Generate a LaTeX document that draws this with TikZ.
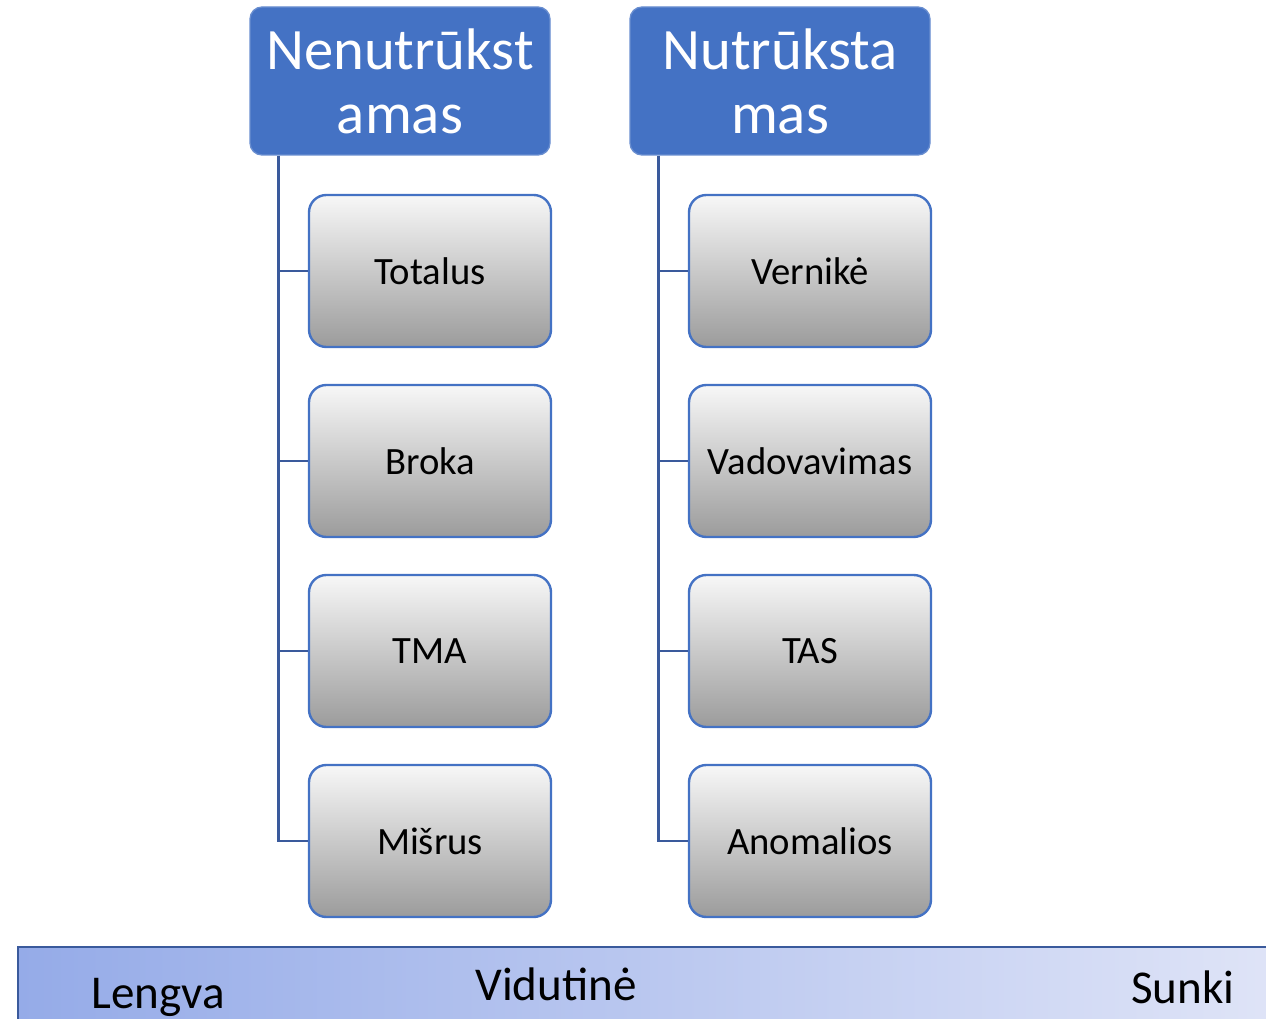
\documentclass[tikz,border=0pt]{standalone}
\usepackage{fontspec}
\setmainfont{Carlito}
\usetikzlibrary{positioning}
\definecolor{hdrblue}{HTML}{4472C4}
\definecolor{spineblue}{HTML}{3A5A9C}
\definecolor{barleft}{HTML}{95ABE8}
\definecolor{barright}{HTML}{DFE4F7}
\tikzstyle{headbox} = [rectangle, rounded corners=9pt, fill=hdrblue, draw=hdrblue!80!white, line width=1pt, text=white, align=center, minimum width=225pt, minimum height=111pt, inner sep=0pt, font=\fontsize{44}{48}\selectfont]
\tikzstyle{subbox} = [rectangle, rounded corners=13pt, draw=hdrblue, line width=1.8pt, top color=gray!6, bottom color=gray!78, text centered, minimum width=181.5pt, minimum height=114pt, font=\fontsize{29}{34}\selectfont]
\tikzstyle{spine} = [draw=spineblue, line width=2pt]
\tikzstyle{levtext} = [anchor=base, inner sep=0pt, font=\fontsize{35.3}{42}\selectfont]

\begin{document}
\begin{tikzpicture}[x=0.75pt, y=-0.75pt]
\useasboundingbox (0,0) rectangle (1266,1019);
\clip (0,0) rectangle (1266,1019);
% antraštės
\node[headbox] (h1) at (400,81) {Nenutrūkst\\amas};
\node[headbox, right of=h1, node distance=285pt] (h2) {Nutrūksta\\mas};
% kairė kolona
\node[subbox] (a1) at (430,271) {Totalus};
\node[subbox, below of=a1, node distance=142.5pt] (a2) {Broka};
\node[subbox, below of=a2, node distance=142.5pt] (a3) {TMA};
\node[subbox, below of=a3, node distance=142.5pt] (a4) {Mišrus};
% dešinė kolona
\node[subbox, right of=a1, node distance=285pt] (b1) {Vernikė};
\node[subbox, right of=a2, node distance=285pt] (b2) {Vadovavimas};
\node[subbox, right of=a3, node distance=285pt] (b3) {TAS};
\node[subbox, right of=a4, node distance=285pt] (b4) {Anomalios};
% jungtys
\coordinate (s1) at ([xshift=21.75pt]h1.south west);
\coordinate (s2) at ([xshift=21.75pt]h2.south west);
\draw[spine] (s1) |- (a4.west);
\draw[spine] (a1.west) -- (a1.west -| s1);
\draw[spine] (a2.west) -- (a2.west -| s1);
\draw[spine] (a3.west) -- (a3.west -| s1);
\draw[spine] (s2) |- (b4.west);
\draw[spine] (b1.west) -- (b1.west -| s2);
\draw[spine] (b2.west) -- (b2.west -| s2);
\draw[spine] (b3.west) -- (b3.west -| s2);
% skalė
\shade[left color=barleft, right color=barright] (18,947) rectangle (1280,1030);
\draw[spine] (18,1030) -- (18,947) -- (1280,947);
\node[levtext] (lengva) at (158,1008) {Lengva};
\node[levtext] (vidutine) at (556,1000) {Vidutinė};
\node[levtext] (sunki) at (1183,1003) {Sunki};
\end{tikzpicture}
\end{document}
